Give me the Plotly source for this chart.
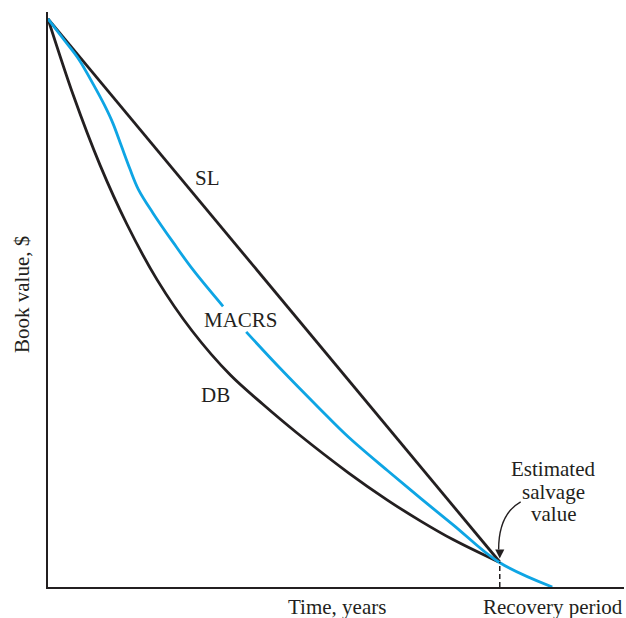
import plotly.graph_objects as go

# depreciation curves (years vs book value, first cost = 100)
recovery_n = 8
salvage = 4.4

sl_t = [0, 8]
sl_v = [100, 4.4]

db_t = [0, 0.45, 0.92, 1.40, 1.93, 2.55, 3.23, 3.80, 4.41, 5.32, 6.01, 6.60, 7.18, 7.98]
db_v = [100, 86.5, 74.3, 63.8, 54.1, 45.1, 37.3, 32.2, 27.1, 20.1, 15.3, 11.6, 8.3, 4.4]

# MACRS has a gap where its label sits (None splits the line)
macrs_t = [0, 0.3, 0.55, 0.8, 1.0, 1.15, 1.30, 1.45, 1.60, 1.86, 2.22, 2.57, 3.10, None,
           3.51, 4.11, 4.82, 5.32, 6.01, 6.60, 7.18, 7.98, 8.93]
macrs_v = [100, 96.1, 92.8, 88.5, 84.8, 81.6, 77.6, 73.6, 70.0, 65.8, 60.6, 55.8, 49.4, None,
           44.9, 38.5, 31.3, 26.4, 20.5, 15.6, 10.9, 4.4, 0]

INK = '#231f20'
CYAN = '#0ea5e4'
FONT = dict(family='Liberation Serif, Times New Roman, serif', size=21, color=INK)

fig = go.Figure()

fig.add_trace(go.Scatter(x=sl_t, y=sl_v, mode='lines',
                         line=dict(color=INK, width=2.8)))
fig.add_trace(go.Scatter(x=db_t, y=db_v, mode='lines',
                         line=dict(color=INK, width=2.8, shape='spline', smoothing=0.9)))
fig.add_trace(go.Scatter(x=macrs_t, y=macrs_v, mode='lines', connectgaps=False,
                         line=dict(color=CYAN, width=2.8, shape='spline', smoothing=1.0)))

# dashed drop line at recovery period
fig.add_shape(type='line', x0=recovery_n, x1=recovery_n, y0=0, y1=salvage,
              line=dict(color=INK, width=1.5, dash='5px,3px'))

# curved pointer from the salvage label
fig.add_shape(type='path', path='M 8.37,15.0 Q 7.98,12.8 7.98,6.6',
              line=dict(color=INK, width=1.4))
fig.add_annotation(x=recovery_n, y=5.0, ax=0, ay=-10, text='', showarrow=True,
                   arrowhead=2, arrowsize=1.3, arrowwidth=1.4, arrowcolor=INK)

# curve labels
fig.add_annotation(x=2.82, y=72.0, text='SL', showarrow=False, font=FONT)
fig.add_annotation(x=3.42, y=47.0, text='MACRS', showarrow=False, font=FONT)
fig.add_annotation(x=2.96, y=33.8, text='DB', showarrow=False, font=FONT)

for txt, yy in [('Estimated', 20.8), ('salvage', 16.7), ('value', 12.9)]:
    fig.add_annotation(x=8.95, y=yy, text=txt, showarrow=False, font=FONT)

# axis labels
fig.add_annotation(x=5.12, y=0, yref='y', yshift=-20, text='Time, years',
                   showarrow=False, font=FONT)
fig.add_annotation(x=8.95, y=0, yref='y', yshift=-20, text='Recovery period',
                   showarrow=False, font=FONT)
fig.add_annotation(xref='paper', yref='paper', x=-0.045, y=0.508, text='Book value, $',
                   xanchor='center', yanchor='middle',
                   textangle=-90, showarrow=False, font=FONT)

fig.update_layout(
    width=626, height=618,
    margin=dict(l=48, r=2, t=12, b=31),
    paper_bgcolor='white', plot_bgcolor='white',
    showlegend=False,
    xaxis=dict(range=[0, 10.2], showgrid=False, zeroline=False, showline=True,
               linecolor=INK, linewidth=1.5, showticklabels=False, ticks=''),
    yaxis=dict(range=[0, 101.2], showgrid=False, zeroline=False, showline=True,
               linecolor=INK, linewidth=1.5, showticklabels=False, ticks=''),
)

# drop the default page margin so the figure fills the window exactly
fig.write_html("out.html", config={'displayModeBar': False},
               post_script="document.body.style.margin='0';document.body.style.overflow='hidden';")
